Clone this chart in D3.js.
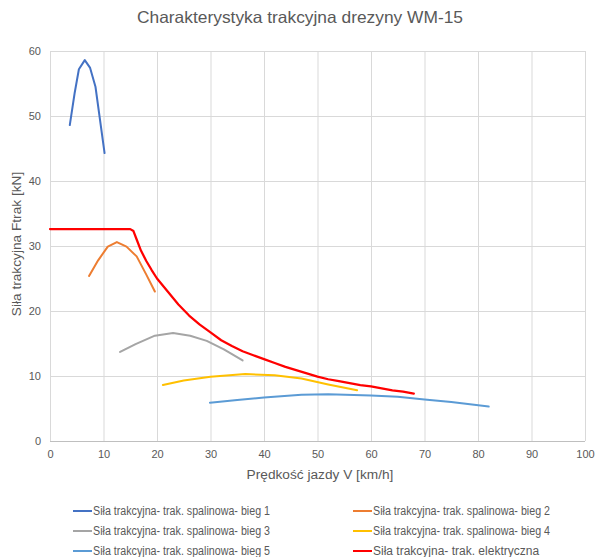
<!DOCTYPE html>
<html><head><meta charset="utf-8">
<script src="https://cdn.jsdelivr.net/npm/d3@7"></script>
<style>body{margin:0;background:#fff}text{font-family:"Liberation Sans",Arial,sans-serif;fill:#595959}</style>
</head><body><svg id="c" width="600" height="557"></svg>
<script>
const title = "Charakterystyka trakcyjna drezyny WM-15";
const xLabel = "Prędkość jazdy V [km/h]";
const yLabel = "Siła trakcyjna Ftrak [kN]";
const xTicks = [0,10,20,30,40,50,60,70,80,90,100];
const yTicks = [0,10,20,30,40,50,60];
const seriesNames = [
  "Siła trakcyjna- trak. spalinowa- bieg 1",
  "Siła trakcyjna- trak. spalinowa- bieg 2",
  "Siła trakcyjna- trak. spalinowa- bieg 3",
  "Siła trakcyjna- trak. spalinowa- bieg 4",
  "Siła trakcyjna- trak. spalinowa- bieg 5",
  "Siła trakcyjna- trak. elektryczna"
];
const seriesColors = ["#4472C4","#ED7D31","#A5A5A5","#FFC000","#5B9BD5","#FF0000"];
const bieg1 = [[3.7,48.6],[4.6,53.5],[5.4,57.2],[6.5,58.6],[7.5,57.4],[8.5,54.5],[10.2,44.3]];
const bieg2 = [[7.3,25.4],[9,27.8],[10.8,29.9],[12.5,30.6],[14.3,29.9],[16.2,28.4],[18,25.6],[19.6,23.0]];
const bieg3 = [[13.1,13.7],[16,14.9],[19.6,16.2],[23,16.6],[26.2,16.2],[29.3,15.4],[32.5,14.1],[36,12.4]];
const bieg4 = [[21.1,8.6],[25,9.3],[30,9.9],[36.5,10.3],[42,10.1],[47,9.6],[52,8.7],[57.4,7.8]];
const bieg5 = [[29.9,5.9],[35,6.3],[40,6.7],[47,7.1],[52,7.2],[60,7.0],[65,6.8],[70,6.4],[75,6.0],[82,5.3]];
const elektryczna = [[0,32.6],[15.0,32.6],[15.6,32.3],[16.2,31.0],[17,29.3],[18,27.7],[19,26.3],[20,25.0],[22,23.0],[24,21.0],[26,19.3],[28,17.9],[30,16.7],[32,15.5],[34,14.6],[36,13.8],[38,13.2],[40,12.6],[42,12.0],[44,11.4],[46,10.9],[48,10.4],[50,9.9],[52,9.5],[54,9.2],[56,8.9],[58,8.6],[60,8.4],[62,8.1],[64,7.8],[66,7.6],[68,7.3]];
const allSeries = [bieg1,bieg2,bieg3,bieg4,bieg5,elektryczna];

const svg = d3.select("#c");
const m = {l:50, r:15, t:51, b:116};
const W = 600, H = 557;
const x = d3.scaleLinear().domain([0,100]).range([m.l, W-m.r]);
const y = d3.scaleLinear().domain([0,60]).range([H-m.b, m.t]);

const gx = svg.append("g").attr("transform",`translate(0,${H-m.b})`)
  .call(d3.axisBottom(x).tickValues(xTicks).tickSize(-(H-m.b-m.t)).tickPadding(9));
const gy = svg.append("g").attr("transform",`translate(${m.l},0)`)
  .call(d3.axisLeft(y).tickValues(yTicks).tickSize(-(W-m.r-m.l)).tickPadding(9));
[gx,gy].forEach(g=>{
  g.select(".domain").remove();
  g.selectAll(".tick line").attr("stroke","#d9d9d9");
  g.selectAll(".tick text").style("font-size","11px").attr("fill","#595959");
});
gy.selectAll(".tick").filter(d=>d===0).select("line").attr("stroke","#bfbfbf");

const line = d3.line().x(d=>x(d[0])).y(d=>y(d[1]));
allSeries.forEach((s,i)=>{
  svg.append("path").datum(s).attr("d",line).attr("fill","none")
    .attr("stroke",seriesColors[i]).attr("stroke-width", i===5?2.25:2)
    .attr("stroke-linejoin","round").attr("stroke-linecap","round");
});

svg.append("text").attr("x",300).attr("y",23).attr("text-anchor","middle")
  .style("font-size","16.5px").attr("textLength",326).attr("lengthAdjust","spacingAndGlyphs").text(title);
svg.append("text").attr("x",320).attr("y",479).attr("text-anchor","middle")
  .style("font-size","13.7px").text(xLabel);
svg.append("text").attr("transform","translate(21,244) rotate(-90)").attr("text-anchor","middle")
  .style("font-size","13.7px").text(yLabel);

const legX = [73,353], legY = [511,531,551];
seriesNames.forEach((n,i)=>{
  const cx = legX[i%2], cy = legY[Math.floor(i/2)];
  svg.append("line").attr("x1",cx).attr("x2",cx+19).attr("y1",cy).attr("y2",cy)
    .attr("stroke",seriesColors[i]).attr("stroke-width",2);
  const t = svg.append("text").attr("x",cx+20).attr("y",cy+4).style("font-size","12px").text(n);
  if (i<5) t.attr("textLength",177).attr("lengthAdjust","spacingAndGlyphs");
});
</script></body></html>
